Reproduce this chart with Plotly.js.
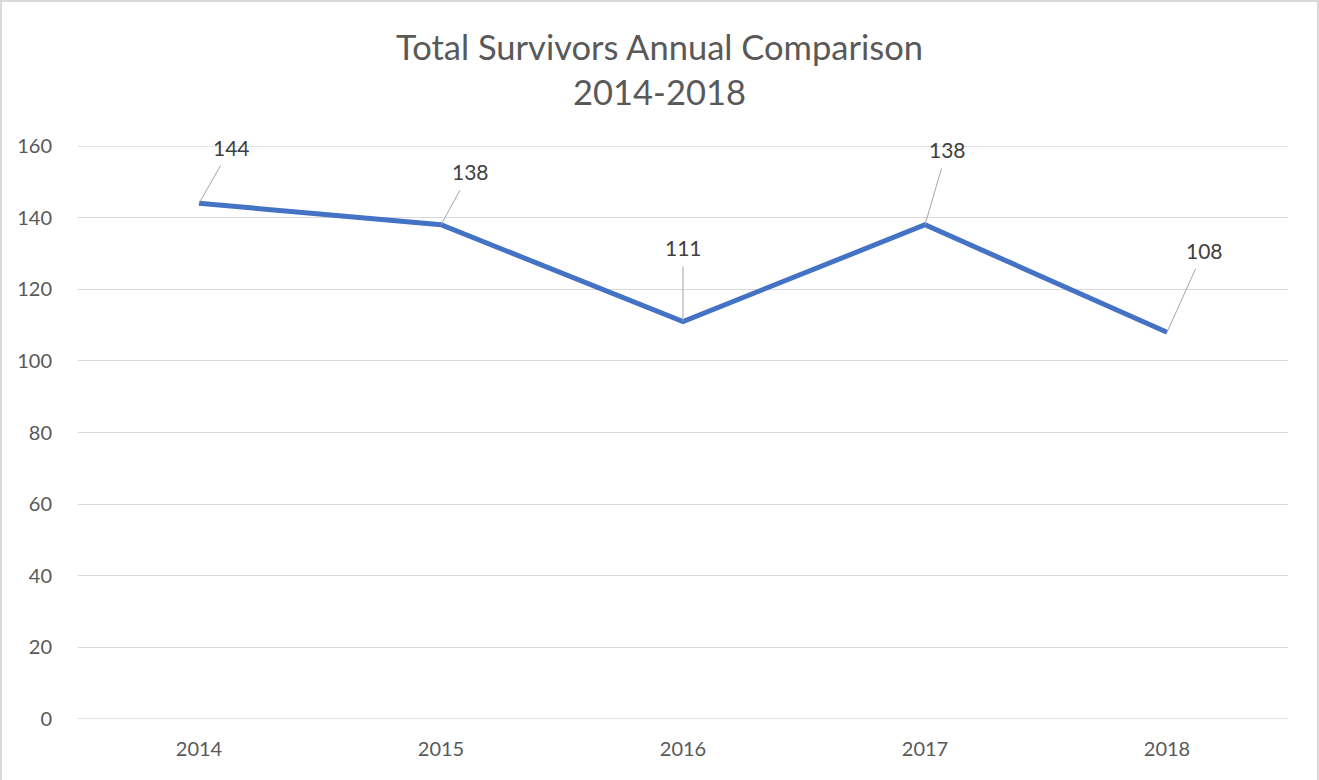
<!DOCTYPE html>
<html>
<head>
<meta charset="utf-8">
<script src="https://cdn.plot.ly/plotly-3.0.1.min.js"></script>
<style>
  html, body { margin: 0; padding: 0; background: #fff; }
  #wrap { position: relative; width: 1319px; height: 780px; }
  #chart { width: 1319px; height: 780px; }
  #frame { position: absolute; left: 0; top: 0; width: 1315px; height: 778px;
           border-left: 2px solid #d9d9d9; border-top: 2px solid #d9d9d9; border-right: 2px solid #d9d9d9;
           pointer-events: none; }
</style>
</head>
<body>
<div id="wrap">
  <div id="chart"></div>
  <div id="frame"></div>
</div>
<script>
// Data
const years = ["2014", "2015", "2016", "2017", "2018"];
const survivors = [144, 138, 111, 138, 108];
const yTicks = [0, 20, 40, 60, 80, 100, 120, 140, 160];

// Data-label leader offsets (pixels, text centre relative to point)
const labelDx = [32, 29, 0, 22, 37];
const labelDy = [-56, -53, -74, -75, -82];

const FONT = "Lato, 'Open Sans', sans-serif";
const GRID = "#d9d9d9";

const trace = {
  type: "scatter",
  mode: "lines",
  x: years,
  y: survivors,
  line: { color: "#4472C4", width: 5 },
  hoverinfo: "x+y"
};

const annotations = years.map((yr, i) => ({
  x: years.indexOf(yr),
  y: survivors[i],
  xref: "x",
  yref: "y",
  text: String(survivors[i]),
  showarrow: true,
  arrowhead: 0,
  arrowwidth: 1,
  arrowcolor: "#a6a6a6",
  ax: labelDx[i],
  ay: labelDy[i],
  startstandoff: 6,
  standoff: 0,
  borderpad: 0,
  font: { family: FONT, size: 21, color: "#404040" }
}));

// Edge gridlines (Plotly omits gridlines lying on the plot-area border)
const edgeGrid = [yTicks[0], yTicks[yTicks.length - 1]].map(v => ({
  type: "line",
  xref: "paper", x0: 0, x1: 1,
  yref: "y", y0: v, y1: v,
  line: { color: GRID, width: 1.3 },
  layer: "below"
}));

const layout = {
  width: 1319,
  height: 780,
  margin: { l: 78, r: 31, t: 146, b: 61 },
  paper_bgcolor: "#ffffff",
  plot_bgcolor: "#ffffff",
  showlegend: false,
  title: {
    text: "Total Survivors Annual Comparison<br>2014-2018",
    font: { family: FONT, size: 34.5, color: "#595959" },
    x: 0.5,
    xanchor: "center",
    y: 1 - 60 / 780,
    yanchor: "middle"
  },
  xaxis: {
    type: "category",
    range: [-0.5, 4.5],
    showgrid: false,
    zeroline: false,
    showline: false,
    ticks: "",
    tickfont: { family: FONT, size: 20, color: "#595959" },
    ticklabelstandoff: 16,
    fixedrange: true
  },
  yaxis: {
    range: [0, 160],
    tickvals: yTicks,
    ticktext: yTicks.map(String),
    showgrid: true,
    gridcolor: GRID,
    gridwidth: 1.3,
    zeroline: false,
    showline: false,
    ticks: "",
    tickfont: { family: FONT, size: 20, color: "#595959" },
    ticklabelstandoff: 25,
    fixedrange: true
  },
  shapes: edgeGrid,
  annotations: annotations
};

Plotly.newPlot("chart", [trace], layout, { displayModeBar: false });
</script>
</body>
</html>
